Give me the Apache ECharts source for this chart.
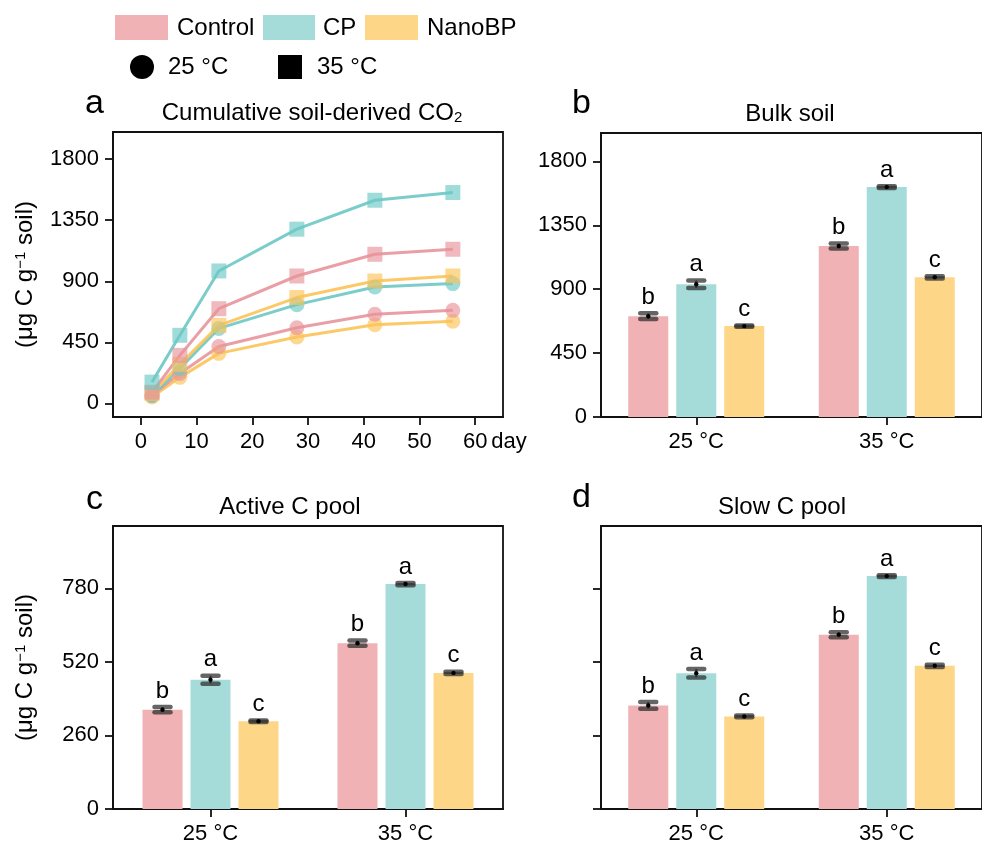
<!DOCTYPE html>
<html>
<head>
<meta charset="utf-8">
<script src="https://cdn.jsdelivr.net/npm/echarts@6/dist/echarts.min.js"></script>
<style>
html, body { margin: 0; padding: 0; background: #fff; }
#main { width: 982px; height: 845px; }
</style>
</head>
<body>
<div id="main"></div>
<script>
// panel a - cumulative CO2
var days = [2, 7, 14, 28, 42, 56]
var control25 = [59, 221, 420, 558, 657, 686]
var control35 = [83, 354, 698, 939, 1099, 1136]
var cp25 = [59, 258, 553, 728, 858, 883]
var cp35 = [157, 502, 976, 1284, 1497, 1554]
var nano25 = [47, 192, 369, 489, 580, 605]
var nano35 = [74, 288, 575, 780, 902, 939]

// bar panels, rows = Control, CP, NanoBP ; cols = 25 °C, 35 °C
var temps = ['25 °C', '35 °C']
var groups = ['Control', 'CP', 'NanoBP']
var sigLetters = ['b', 'a', 'c']
var bulkMean = [[710, 1204], [935, 1619], [640, 984]]
var bulkErr = [[20, 17], [27, 6], [5, 8]]
var activeMean = [[351, 586], [457, 795], [310, 481]]
var activeErr = [[9, 9], [14, 4], [3, 4]]
var slowMean = [[366, 616], [480, 823], [327, 506]]
var slowErr = [[12, 9], [15, 3], [3, 4]]

var ticksA = [0, 450, 900, 1350, 1800]
var ticksDay = [0, 10, 20, 30, 40, 50, 60]
var ticksBulk = [0, 450, 900, 1350, 1800]
var ticksPool = [0, 260, 520, 780]

var lineColors = ['#e8949b', '#6cc8c4', '#fcc358']
var barColors = ['#f0b2b5', '#a5dbd9', '#fed688']
var FONT = '"Liberation Sans", Arial, sans-serif'

var axLine = { show: true, onZero: false, lineStyle: { color: '#111', width: 1.8 } }
var plain = function (v) { return String(v) }

function yAx(idx, min, max, ticks, showLabel, withName) {
    var ax = {
        type: 'value', gridIndex: idx, min: min, max: max,
        axisLine: axLine,
        axisTick: { show: true, inside: false, length: 8, customValues: ticks, lineStyle: { color: '#111', width: 1.8 } },
        axisLabel: { show: showLabel, customValues: ticks, formatter: plain, fontSize: 22, color: '#000', fontFamily: FONT, margin: 14 },
        splitLine: { show: false }
    }
    if (withName) {
        ax.name = '(μg C g{sup|−1} soil)'
        ax.nameLocation = 'middle'
        ax.nameGap = 76
        ax.nameTextStyle = {
            fontSize: 24, color: '#000', fontFamily: FONT,
            rich: { sup: { fontSize: 15, verticalAlign: 'top', fontFamily: FONT, color: '#000' } }
        }
    }
    return ax
}

function xCat(idx) {
    return {
        type: 'category', gridIndex: idx, data: temps,
        axisLine: axLine,
        axisTick: { show: true, alignWithLabel: true, length: 8, lineStyle: { color: '#111', width: 1.8 } },
        axisLabel: { fontSize: 22, color: '#000', fontFamily: FONT, margin: 14 },
        splitLine: { show: false }
    }
}

function errRender(params, api) {
    var t = api.value(0), g = api.value(1), m = api.value(2), e = api.value(3)
    var dx = (g - 1) * 48
    var c = api.coord([t, m]), hi = api.coord([t, m + e]), lo = api.coord([t, m - e])
    var x = c[0] + dx
    var cap = { stroke: 'rgba(50,50,50,0.75)', lineWidth: 4.5, lineCap: 'round' }
    return {
        type: 'group',
        children: [
            { type: 'line', shape: { x1: x, y1: hi[1], x2: x, y2: lo[1] }, style: { stroke: 'rgba(30,30,30,0.85)', lineWidth: 2 } },
            { type: 'line', shape: { x1: x - 8, y1: hi[1], x2: x + 8, y2: hi[1] }, style: cap },
            { type: 'line', shape: { x1: x - 8, y1: lo[1], x2: x + 8, y2: lo[1] }, style: cap },
            { type: 'circle', shape: { cx: x, cy: c[1], r: 2.2 }, style: { fill: '#000' } },
            { type: 'text', x: x, y: hi[1] - 4, style: { text: sigLetters[g], fontSize: 24, fontFamily: FONT, fill: '#000', align: 'center', verticalAlign: 'bottom' } }
        ]
    }
}

function barPanel(idx, mean, err) {
    var out = []
    for (var g = 0; g < 3; g++) {
        out.push({
            type: 'bar', name: groups[g], xAxisIndex: idx, yAxisIndex: idx,
            barWidth: 40, barGap: '20%',
            itemStyle: { color: barColors[g] },
            data: mean[g]
        })
    }
    var ed = []
    for (var g2 = 0; g2 < 3; g2++) {
        for (var t = 0; t < 2; t++) ed.push([t, g2, mean[g2][t], err[g2][t]])
    }
    out.push({
        type: 'custom', xAxisIndex: idx, yAxisIndex: idx, z: 5,
        encode: { x: 0, y: 2 }, renderItem: errRender, data: ed
    })
    return out
}

function lineS(name, vals, color, sym) {
    return {
        type: 'line', name: name, xAxisIndex: 0, yAxisIndex: 0,
        data: days.map(function (d, i) { return [d, vals[i]] }),
        symbol: sym, symbolSize: 15, showSymbol: true,
        lineStyle: { color: color, width: 3, opacity: 0.9 },
        itemStyle: { color: color, opacity: 0.65, borderWidth: 0 }
    }
}

var series = [
    lineS('NanoBP 25', nano25, lineColors[2], 'circle'),
    lineS('Control 25', control25, lineColors[0], 'circle'),
    lineS('CP 25', cp25, lineColors[1], 'circle'),
    lineS('NanoBP 35', nano35, lineColors[2], 'rect'),
    lineS('Control 35', control35, lineColors[0], 'rect'),
    lineS('CP 35', cp35, lineColors[1], 'rect')
].concat(barPanel(1, bulkMean, bulkErr), barPanel(2, activeMean, activeErr), barPanel(3, slowMean, slowErr))

function txt(x, y, s, size, align) {
    return { type: 'text', x: x, y: y, style: { text: s, fontSize: size, fontFamily: FONT, fill: '#000', align: align || 'left', verticalAlign: 'middle' } }
}

var graphics = [
    // legend
    { type: 'rect', shape: { x: 115, y: 15, width: 53, height: 25 }, style: { fill: barColors[0] } },
    txt(177, 28, 'Control', 24),
    { type: 'rect', shape: { x: 263, y: 15, width: 52, height: 25 }, style: { fill: barColors[1] } },
    txt(323, 28, 'CP', 24),
    { type: 'rect', shape: { x: 365, y: 15, width: 53, height: 25 }, style: { fill: barColors[2] } },
    txt(427, 28, 'NanoBP', 24),
    { type: 'circle', shape: { cx: 142, cy: 67, r: 12 }, style: { fill: '#000' } },
    txt(168, 67, '25 °C', 24),
    { type: 'rect', shape: { x: 278, y: 55, width: 24, height: 24 }, style: { fill: '#000' } },
    txt(317, 67, '35 °C', 24),
    // panel letters
    txt(85, 104, 'a', 34), txt(572, 104, 'b', 34), txt(86, 500, 'c', 34), txt(572, 498, 'd', 34),
    // titles
    {
        type: 'text', x: 312, y: 113,
        style: {
            text: '{n|Cumulative soil-derived CO}{s|2}', align: 'center', verticalAlign: 'middle', fill: '#000',
            rich: { n: { fontSize: 24, fontFamily: FONT, fill: '#000' }, s: { fontSize: 15, fontFamily: FONT, fill: '#000', verticalAlign: 'bottom' } }
        }
    },
    txt(790, 114, 'Bulk soil', 24, 'center'),
    txt(290, 507, 'Active C pool', 24, 'center'),
    txt(782, 507, 'Slow C pool', 24, 'center')
]

var gridStyle = { show: true, borderColor: '#111', borderWidth: 1.8, backgroundColor: 'transparent' }

var option = {
    animation: false,
    backgroundColor: '#fff',
    textStyle: { fontFamily: FONT },
    grid: [
        Object.assign({ left: 113, top: 132, width: 390, height: 285 }, gridStyle),
        Object.assign({ left: 601, top: 133, width: 388, height: 284 }, gridStyle),
        Object.assign({ left: 113, top: 526, width: 390, height: 284 }, gridStyle),
        Object.assign({ left: 601, top: 526, width: 390, height: 284 }, gridStyle)
    ],
    xAxis: [
        {
            type: 'value', gridIndex: 0, min: -5, max: 65,
            axisLine: axLine,
            axisTick: { show: true, length: 8, customValues: ticksDay, lineStyle: { color: '#111', width: 1.8 } },
            axisLabel: { customValues: ticksDay, formatter: plain, fontSize: 22, color: '#000', fontFamily: FONT, margin: 14 },
            splitLine: { show: false },
            name: 'day', nameLocation: 'end', nameGap: -13,
            nameTextStyle: { fontSize: 22, color: '#000', fontFamily: FONT, verticalAlign: 'top', padding: [14, 0, 0, 0] }
        },
        xCat(1), xCat(2), xCat(3)
    ],
    yAxis: [
        yAx(0, -100, 2000, ticksA, true, true),
        yAx(1, 0, 2000, ticksBulk, true, false),
        yAx(2, 0, 1000, ticksPool, true, true),
        yAx(3, 0, 1000, ticksPool, false, false)
    ],
    graphic: graphics,
    series: series
}

var chart = echarts.init(document.getElementById('main'))
chart.setOption(option)
</script>
</body>
</html>
